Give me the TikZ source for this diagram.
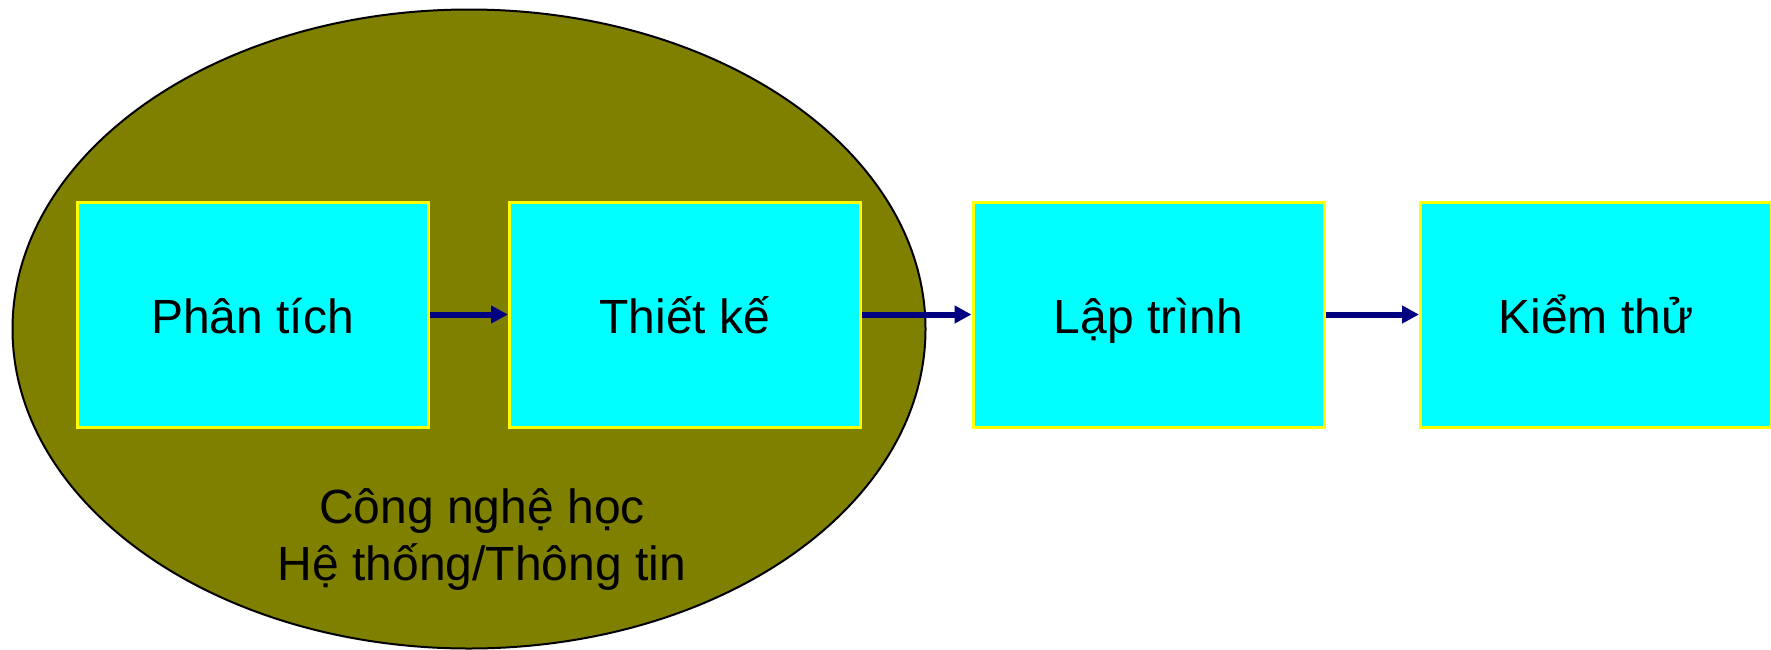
\documentclass[tikz,border=0pt]{standalone}
\usepackage{fontspec}
\setmainfont{Liberation Sans}
\usetikzlibrary{arrows.meta,shapes.geometric}
\definecolor{boxfill}{HTML}{00FFFF}
\definecolor{boxline}{HTML}{FFFF00}
\definecolor{olivefill}{HTML}{808000}
\definecolor{arrowcol}{HTML}{000080}
\begin{document}
\begin{tikzpicture}[x=1pt,y=-1pt,
  stagebox/.style={draw=boxline, line width=3pt, fill=boxfill, minimum width=351pt, minimum height=225pt, inner sep=0pt, text height=37pt, text depth=0pt, font=\fontsize{48}{57}\selectfont, text=black},
  flowarrow/.style={draw=arrowcol, line width=6pt, -{Triangle[length=17pt,width=17pt]}},
  areablob/.style={draw=black, line width=2pt, fill=olivefill, ellipse, minimum width=913pt, minimum height=639pt, inner sep=0pt}]
\useasboundingbox (0,0) rectangle (1771,649);
\node[areablob] (area) at (469,329) {};
\node[stagebox] (pt) at (252.5,314.5) {Phân tích};
\node[stagebox] (tk) at (685,314.5) {Thiết kế};
\node[stagebox] (lt) at (1148.5,314.5) {Lập trình};
\node[stagebox] (ks) at (1596,314.5) {Kiểm thử};
\node[align=center, anchor=base, font=\fontsize{48}{57}\selectfont, inner sep=0pt] (lbl) at (482,580) {Công nghệ học\\Hệ thống/Thông tin};
\draw[flowarrow] (pt.east) -- (tk.west);
\draw[flowarrow] (tk.east) -- (lt.west);
\draw[flowarrow] (lt.east) -- (ks.west);
\end{tikzpicture}
\end{document}
